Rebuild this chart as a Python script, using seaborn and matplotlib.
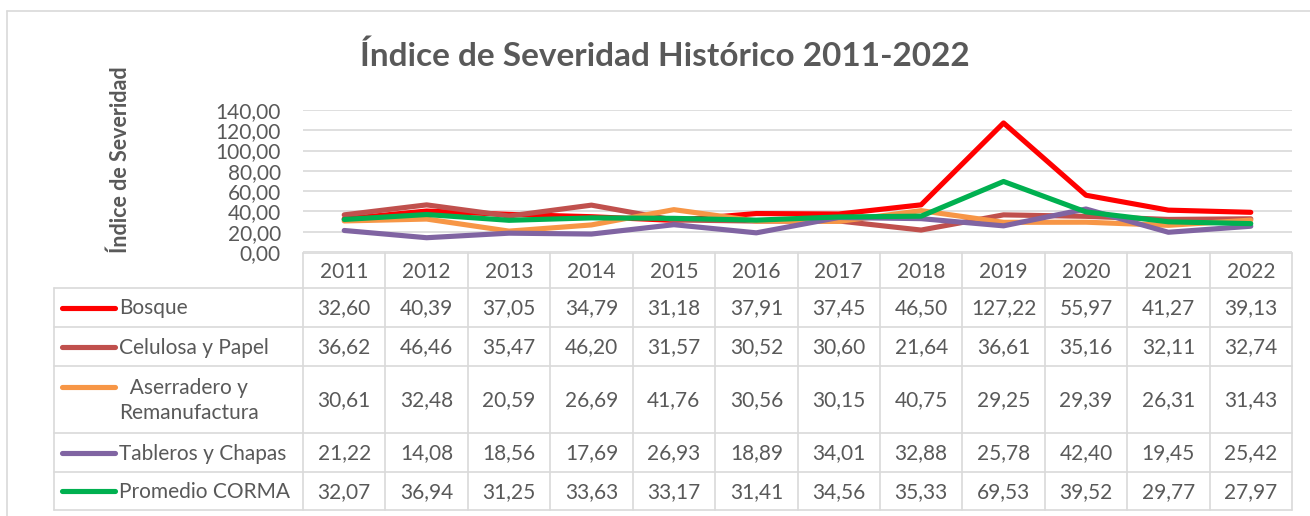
import pandas as pd
import matplotlib
matplotlib.use('Agg')
import matplotlib.pyplot as plt
import seaborn as sns

years = ['2011', '2012', '2013', '2014', '2015', '2016', '2017', '2018', '2019', '2020', '2021', '2022']
series_names = ['Bosque', 'Celulosa y Papel', 'Aserradero y Remanufactura', 'Tableros y Chapas', 'Promedio CORMA']
row_labels = ['Bosque', 'Celulosa y Papel', '  Aserradero y\nRemanufactura', 'Tableros y Chapas', 'Promedio CORMA']
bosque = [32.60, 40.39, 37.05, 34.79, 31.18, 37.91, 37.45, 46.50, 127.22, 55.97, 41.27, 39.13]
celulosa = [36.62, 46.46, 35.47, 46.20, 31.57, 30.52, 30.60, 21.64, 36.61, 35.16, 32.11, 32.74]
aserradero = [30.61, 32.48, 20.59, 26.69, 41.76, 30.56, 30.15, 40.75, 29.25, 29.39, 26.31, 31.43]
tableros = [21.22, 14.08, 18.56, 17.69, 26.93, 18.89, 34.01, 32.88, 25.78, 42.40, 19.45, 25.42]
promedio = [32.07, 36.94, 31.25, 33.63, 33.17, 31.41, 34.56, 35.33, 69.53, 39.52, 29.77, 27.97]
colors = ['#FF0000', '#C0504D', '#F79646', '#8064A2', '#00B050']

values = [bosque, celulosa, aserradero, tableros, promedio]
df = pd.concat([
    pd.DataFrame({'pos': range(len(years)), 'valor': v, 'serie': n})
    for n, v in zip(series_names, values)
])

sns.set_style('white')
plt.rcParams['font.family'] = ['Lato', 'DejaVu Sans']
TXT = '#595959'
GRID = '#D9D9D9'

W, H = 1310, 516
fig = plt.figure(figsize=(W / 100, H / 100), dpi=100)

# background axes in pixel coordinates for frame, title and data table
bg = fig.add_axes([0, 0, 1, 1], zorder=0)
bg.set_xlim(0, W)
bg.set_ylim(H, 0)
bg.axis('off')

# chart frame
bg.plot([7, 7], [11, H], color=GRID, lw=1.2)
bg.plot([7, W], [11, 11], color=GRID, lw=1.2)

bg.text(665, 56, 'Índice de Severidad Histórico 2011-2022', ha='center', va='center',
        fontsize=24, fontweight='bold', color=TXT)
bg.text(120, 160, 'Índice de Severidad', rotation=90, ha='center', va='center',
        fontsize=15.5, fontweight='bold', color=TXT)

# plot area
left, right, top, bottom = 303, 1292, 110, 252
ax = fig.add_axes([left / W, 1 - bottom / H, (right - left) / W, (bottom - top) / H], zorder=1)
ax.patch.set_visible(False)
sns.lineplot(data=df, x='pos', y='valor', hue='serie', hue_order=series_names,
             palette=dict(zip(series_names, colors)), linewidth=3.7, legend=False,
             ax=ax, sort=False, clip_on=False)
ax.set_xlim(-0.5, len(years) - 0.5)
ax.set_ylim(0, 140)
ax.set_yticks(range(0, 141, 20))
ax.set_yticklabels([f'{v},00' for v in range(0, 141, 20)], fontsize=15, color=TXT)
ax.tick_params(axis='y', length=0, pad=16)
ax.set_xticks([])
ax.set_xlabel('')
ax.set_ylabel('')
ax.grid(axis='y', color=GRID, lw=1.2)
for s in ax.spines.values():
    s.set_visible(False)

# data table
n = len(years)
cw = (right - left) / n
col_edges = [left + i * cw for i in range(n + 1)]
row_edges = [253, 288, 327, 366, 433, 472, 510]
tleft = 54

for x in col_edges:
    bg.plot([x, x], [row_edges[0], row_edges[-1]], color=GRID, lw=1.2)
bg.plot([tleft, tleft], [row_edges[1], row_edges[-1]], color=GRID, lw=1.2)
bg.plot([left, right], [row_edges[0], row_edges[0]], color=GRID, lw=1.2)
for y in row_edges[1:]:
    bg.plot([tleft, right], [y, y], color=GRID, lw=1.2)

for i, yr in enumerate(years):
    bg.text(left + (i + 0.5) * cw, (row_edges[0] + row_edges[1]) / 2 + 1, yr,
            ha='center', va='center', fontsize=15, color=TXT)

for r, (lab, vals, c) in enumerate(zip(row_labels, values, colors)):
    yc = (row_edges[r + 1] + row_edges[r + 2]) / 2 + 1
    key_y = yc - 14 if '\n' in lab else yc - 1
    bg.plot([62, 115], [key_y, key_y], color=c, lw=3.7, solid_capstyle='round')
    bg.text(119, yc, lab, ha='left', va='center', fontsize=15, color=TXT,
            linespacing=1.35, multialignment='left')
    for i, v in enumerate(vals):
        bg.text(left + (i + 0.5) * cw, yc, f'{v:.2f}'.replace('.', ','),
                ha='center', va='center', fontsize=15, color=TXT)

fig.savefig('out.png', dpi=100, facecolor='white')
